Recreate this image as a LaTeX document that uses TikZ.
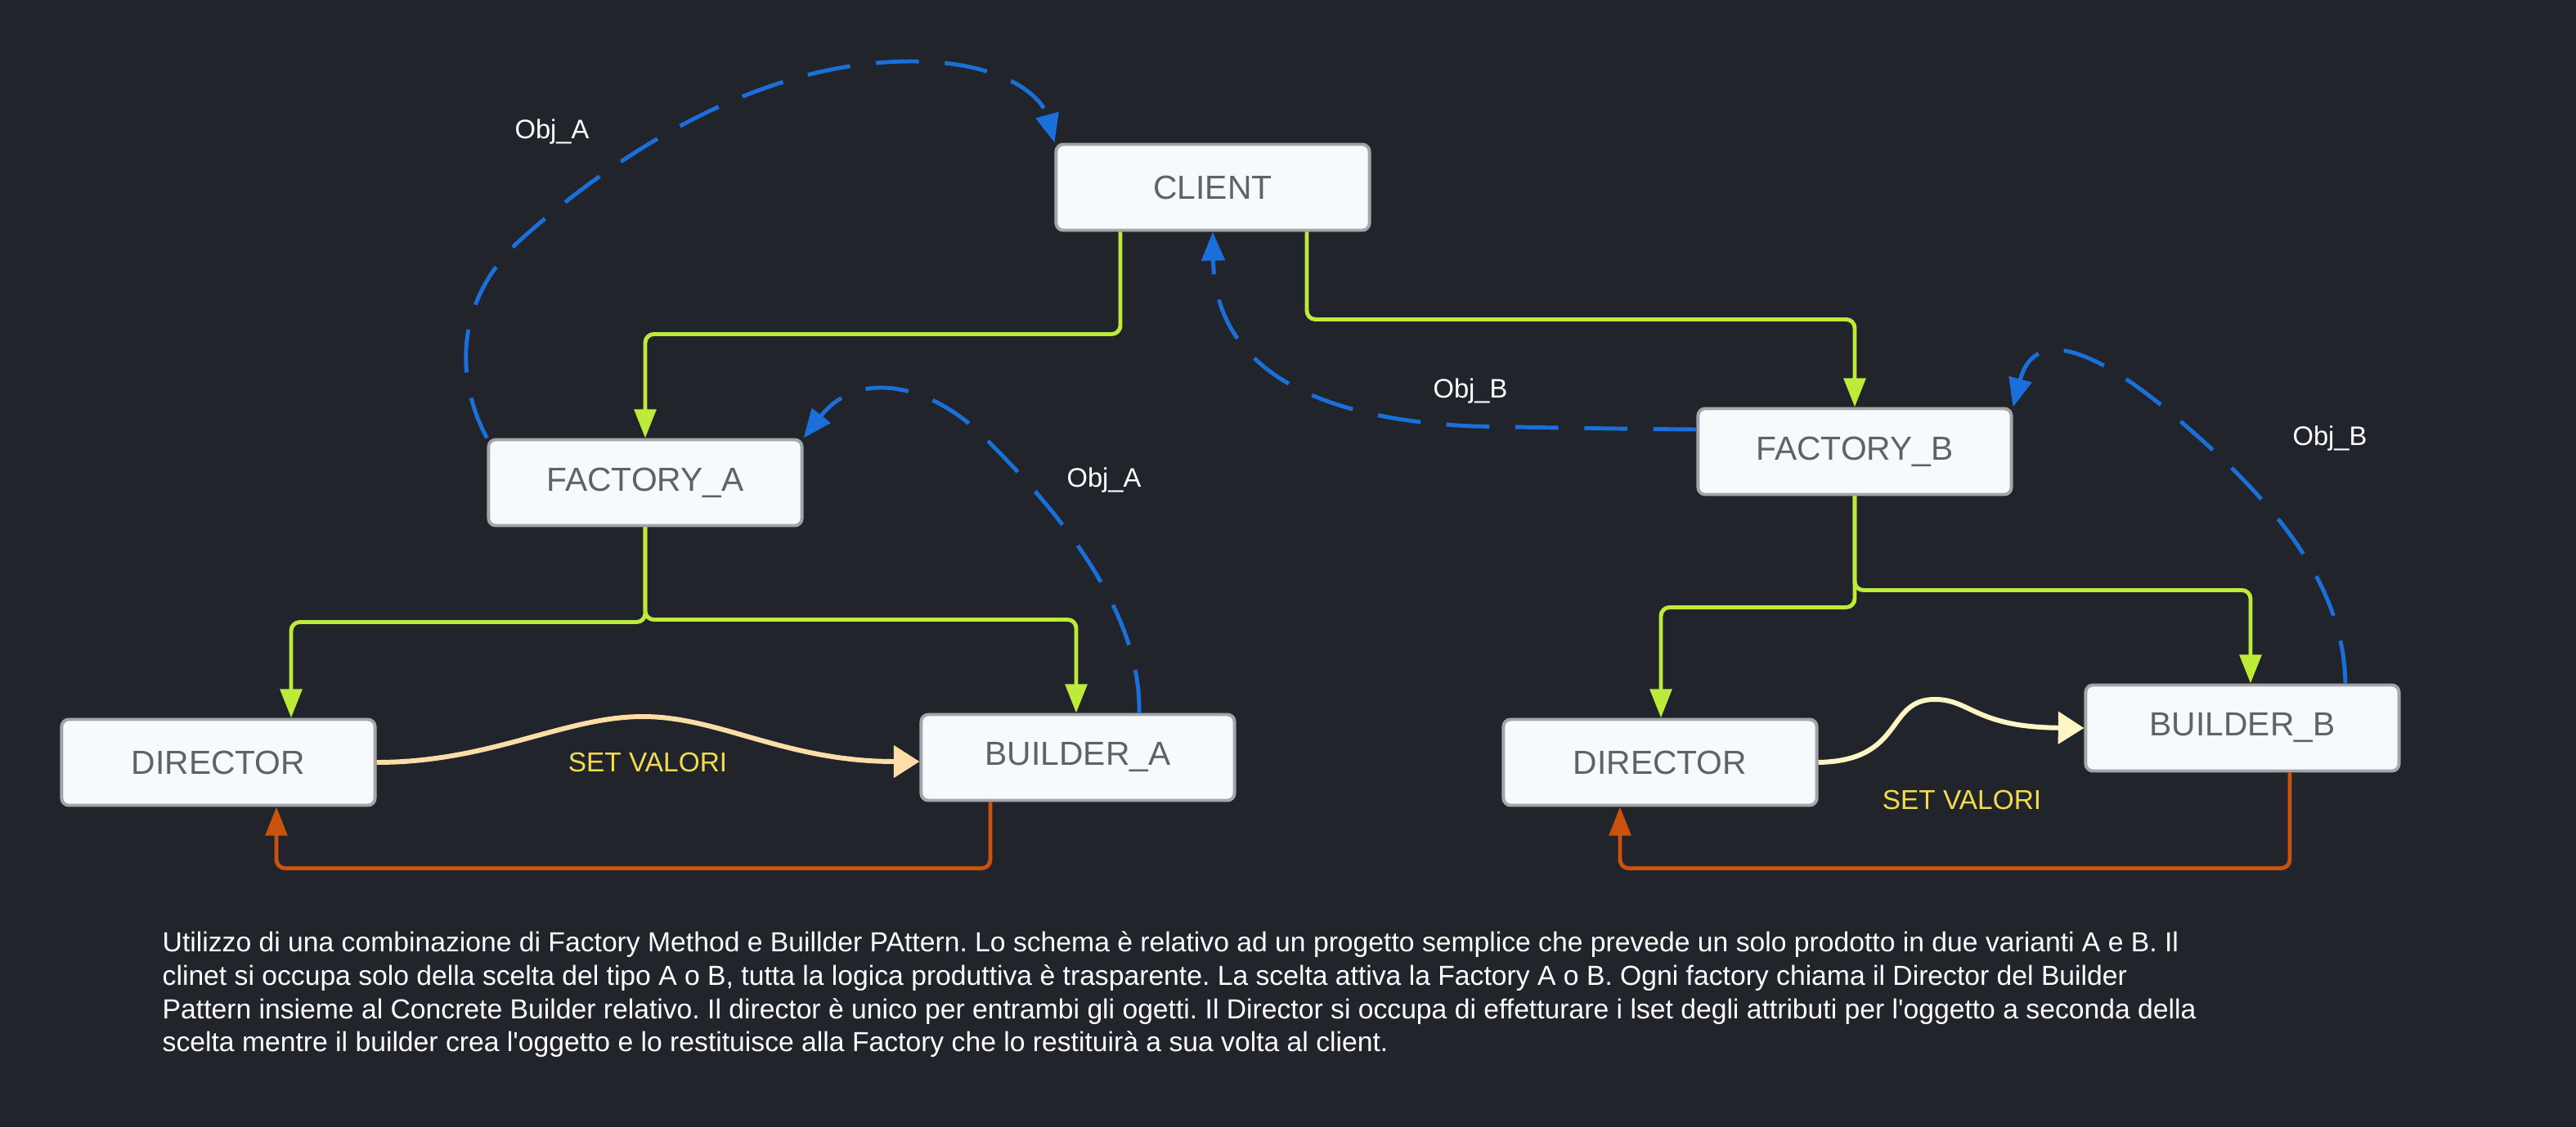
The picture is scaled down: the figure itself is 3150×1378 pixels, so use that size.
\documentclass[tikz,border=0pt]{standalone}
\usepackage{fontspec}
\setmainfont{Liberation Sans}
\usetikzlibrary{arrows.meta,calc}
\definecolor{bg}{HTML}{21252B}
\definecolor{boxfill}{HTML}{F6FAFD}
\definecolor{boxline}{HTML}{A3A5A8}
\definecolor{boxtext}{HTML}{5F6368}
\definecolor{grn}{HTML}{BEEB3A}
\definecolor{blu}{HTML}{1A6FDB}
\definecolor{org}{HTML}{C9520F}
\definecolor{pch}{HTML}{FFDDA6}
\definecolor{lyl}{HTML}{FFF6C4}
\definecolor{svy}{HTML}{F2DC4C}
\frenchspacing
\begin{document}
\begin{tikzpicture}[x=0.01cm,y=-0.01cm,
  box/.style={draw=boxline, fill=boxfill, line width=1.1pt, rounded corners=2.5pt,
    minimum width=3.83cm, minimum height=1.05cm, inner sep=0pt, text=boxtext,
    font=\fontsize{11.6}{13}\selectfont},
  lbl/.style={text=white, font=\fontsize{9.3}{11}\selectfont, inner sep=0pt},
  svlbl/.style={text=svy, font=\fontsize{9.5}{11}\selectfont, inner sep=0pt},
  desc/.style={text=white, font=\fontsize{9.58}{11}\selectfont, inner sep=0pt, anchor=base west},
  gline/.style={draw=grn, line width=1.4pt, rounded corners=3pt, -{Triangle[length=10pt,width=7.5pt]}},
  oline/.style={draw=org, line width=1.4pt, rounded corners=3pt, -{Triangle[length=10pt,width=7.5pt]}},
  bline/.style={draw=blu, line width=1.4pt, dash pattern=on 15pt off 9pt, -{Triangle[length=10pt,width=8pt]}},
  pline/.style={line width=1.7pt, -{Triangle[length=9pt,width=11pt]}}
]
\fill[bg] (0,0) rectangle (3150,1378);
\useasboundingbox (0,0) rectangle (3150,1378);

% boxes
\node[box] (client) at (1483,229) {CLIENT};
\node[box] (fa) at (789,590) {FACTORY\_A};
\node[box] (fb) at (2268,552) {FACTORY\_B};
\node[box] (da) at (267,932) {DIRECTOR};
\node[box] (ba) at (1318,926) {BUILDER\_A};
\node[box] (db) at (2030,932) {DIRECTOR};
\node[box] (bb) at (2742,890) {BUILDER\_B};

% green
\draw[gline] ($(client.south)+(-113,0)$) -- ++(0,125) -| (fa.north);
\draw[gline] ($(client.south)+(115,0)$) -- ++(0,107) -| (fb.north);
\draw[gline] (fa.south) -- ++(0,116) -| ($(da.north)+(89,0)$);
\draw[gline] (fa.south) -- ++(0,113) -| ($(ba.north)+(-2,0)$);
\draw[gline] (fb.south) -- ++(0,115) -| ($(bb.north)+(10,0)$);
\draw[gline] (fb.south) -- ++(0,136) -| ($(db.north)+(1,0)$);

% orange
\draw[oline] ($(ba.south)+(-107,0)$) -- ++(0,81) -| ($(da.south)+(71,0)$);
\draw[oline] ($(bb.south)+(58,0)$) -- ++(0,117) -| ($(db.south)+(-49,0)$);

% set valori
\draw[pline, draw=pch] (da.east) .. controls (600,932) and (690,876) .. (786,876)
  .. controls (880,876) and (960,931) .. ($(ba.west)+(0,5)$);
\draw[pline, draw=lyl] (db.east) .. controls (2330,930) and (2305,855) .. (2366,855)
  .. controls (2410,855) and (2415,889) .. (bb.west);

% blue dashed
\draw[bline] (fa.north west) .. controls (560,470) and (550,370) .. (640,290)
  .. controls (757,186) and (930,75) .. (1114,75)
  .. controls (1230,75) and (1275,120) .. (client.north west);
\draw[bline] ($(ba.north)+(75,0)$) .. controls (1395,770) and (1330,660) .. (1205,536)
  .. controls (1140,470) and (1050,450) .. (fa.north east);
\draw[bline] ($(fb.west)+(0,-27)$) .. controls (1950,524) and (1850,522) .. (1800,521)
  .. controls (1560,510) and (1485,420) .. (client.south);
\draw[bline] ($(bb.north)+(126,0)$) .. controls (2866,720) and (2790,620) .. (2665,514)
  .. controls (2580,440) and (2490,390) .. (fb.north east);

% labels
\node[lbl] (la1) at (675,161) {Obj\_A};
\node[lbl] (la2) at (1350,587) {Obj\_A};
\node[lbl] (lb1) at (1798,478) {Obj\_B};
\node[lbl] (lb2) at (2849,536) {Obj\_B};
\node[svlbl] (sva) at (792,932) {SET VALORI};
\node[svlbl] (svb) at (2399,978) {SET VALORI};

% description
\node[desc] (d1) at (198,1163) {Utilizzo di una combinazione di Factory Method e Buillder PAttern. Lo schema è relativo ad un progetto semplice che prevede un solo prodotto in due varianti A e B. Il};
\node[desc] (d2) at (198,1204) {clinet si occupa solo della scelta del tipo A o B, tutta la logica produttiva è trasparente. La scelta attiva la Factory A o B. Ogni factory chiama il Director del Builder};
\node[desc] (d3) at (198,1245) {Pattern insieme al Concrete Builder relativo. Il director è unico per entrambi gli ogetti. Il Director si occupa di effetturare i lset degli attributi per l\textquotesingle oggetto a seconda della};
\node[desc] (d4) at (198,1285) {scelta mentre il builder crea l\textquotesingle oggetto e lo restituisce alla Factory che lo restituirà a sua volta al client.};
\end{tikzpicture}
\end{document}
